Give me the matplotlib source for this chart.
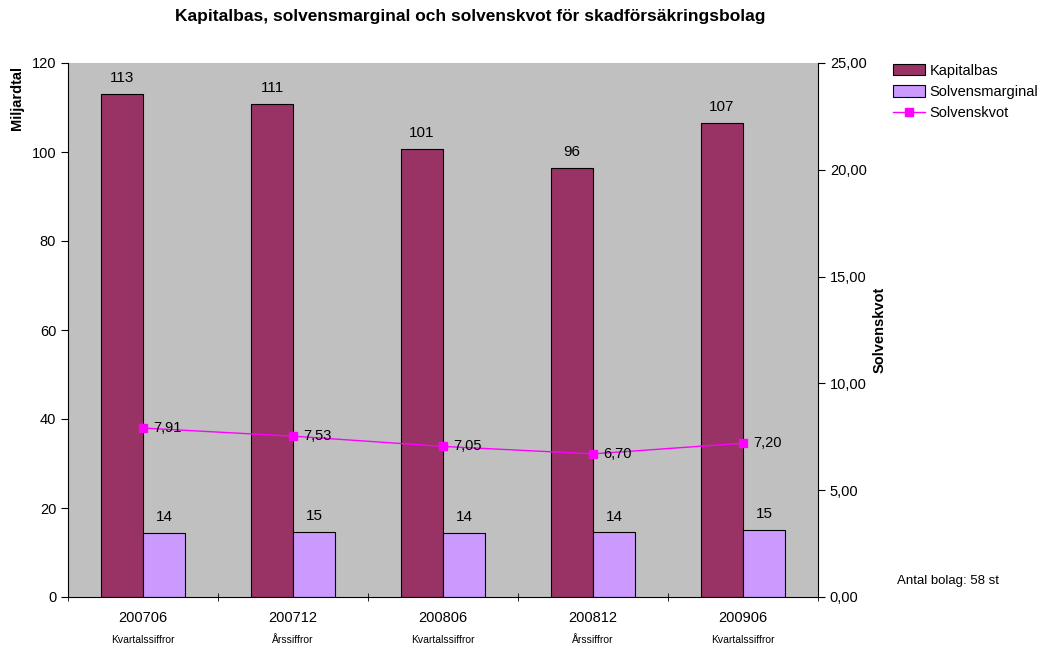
import numpy as np
import matplotlib.pyplot as plt

# Data
perioder = ["200706", "200712", "200806", "200812", "200906"]
typ = ["Kvartalssiffror", "Årssiffror", "Kvartalssiffror", "Årssiffror", "Kvartalssiffror"]
kapitalbas = [113.1, 110.8, 100.6, 96.4, 106.6]
solvensmarginal = [14.3, 14.7, 14.3, 14.5, 15.0]
solvenskvot = [7.91, 7.53, 7.05, 6.70, 7.20]

plt.rcParams["font.family"] = ["Liberation Sans", "DejaVu Sans"]

fig = plt.figure(figsize=(10.55, 6.62), dpi=100)
ax = fig.add_axes([68 / 1055, 1 - 597 / 662, 750 / 1055, 534 / 662])
ax.set_facecolor("#c0c0c0")

x = np.arange(len(perioder))
w = 0.28
b1 = ax.bar(x - w / 2, kapitalbas, w, color="#993366", edgecolor="black", linewidth=0.8, label="Kapitalbas")
b2 = ax.bar(x + w / 2, solvensmarginal, w, color="#cc99ff", edgecolor="black", linewidth=0.8, label="Solvensmarginal")

for xi, v in zip(x, kapitalbas):
    ax.text(xi - w / 2, v + 2.0, f"{v:.0f}", ha="center", va="bottom", fontsize=11)
for xi, v in zip(x, solvensmarginal):
    ax.text(xi + w / 2, v + 2.0, f"{v:.0f}", ha="center", va="bottom", fontsize=11)

ax.set_xlim(-0.5, len(perioder) - 0.5)
ax.set_ylim(0, 120)
ax.set_yticks(np.arange(0, 121, 20))
ax.set_xticks(x)
ax.set_xticklabels(perioder, fontsize=10.5)
ax.set_xticks(np.arange(-0.5, len(perioder)), minor=True)
ax.tick_params(axis="x", which="major", length=0, pad=10)
ax.tick_params(axis="x", which="minor", length=6, direction="inout")
ax.tick_params(axis="y", labelsize=10.5, length=5, direction="out")
for s in ["top", "right"]:
    ax.spines[s].set_visible(False)

fig.text(17 / 1055, 1 - 98 / 662, "Miljardtal", rotation=90, fontsize=10.5,
         fontweight="bold", ha="center", va="center")

for xi, t in zip(x, typ):
    ax.text(xi, -0.072, t, transform=ax.get_xaxis_transform(), ha="center", va="top", fontsize=7.5)

ax2 = ax.twinx()
ax2.set_ylim(0, 25)
ax2.set_yticks(np.arange(0, 25.1, 5))
ax2.set_yticklabels([f"{v:.2f}".replace(".", ",") for v in np.arange(0, 25.1, 5)])
ax2.tick_params(axis="y", labelsize=10.5, length=5, direction="out")
for s in ["top", "left", "bottom"]:
    ax2.spines[s].set_visible(False)
ln, = ax2.plot(x, solvenskvot, color="#ff00ff", linewidth=1, marker="s", markersize=6, label="Solvenskvot")
for xi, v in zip(x, solvenskvot):
    ax2.text(xi + 0.07, v, f"{v:.2f}".replace(".", ","), ha="left", va="center", fontsize=10.5)

fig.text(880 / 1055, 1 - 330 / 662, "Solvenskvot", rotation=90, fontsize=10.5,
         fontweight="bold", ha="center", va="center")

fig.legend(handles=[b1, b2, ln], loc="upper left", bbox_to_anchor=(887 / 1055, 1 - 58 / 662),
           frameon=False, fontsize=10.5, handlelength=2.2, handleheight=0.8, labelspacing=0.5,
           borderaxespad=0, handletextpad=0.3)

fig.text(897 / 1055, 1 - 581 / 662, "Antal bolag: 58 st", fontsize=9.5, va="center")
fig.suptitle("Kapitalbas, solvensmarginal och solvenskvot för skadförsäkringsbolag",
             fontsize=12.5, fontweight="bold", y=1 - 17 / 662, va="center", x=470 / 1055)

fig.savefig("out.png", dpi=100)
